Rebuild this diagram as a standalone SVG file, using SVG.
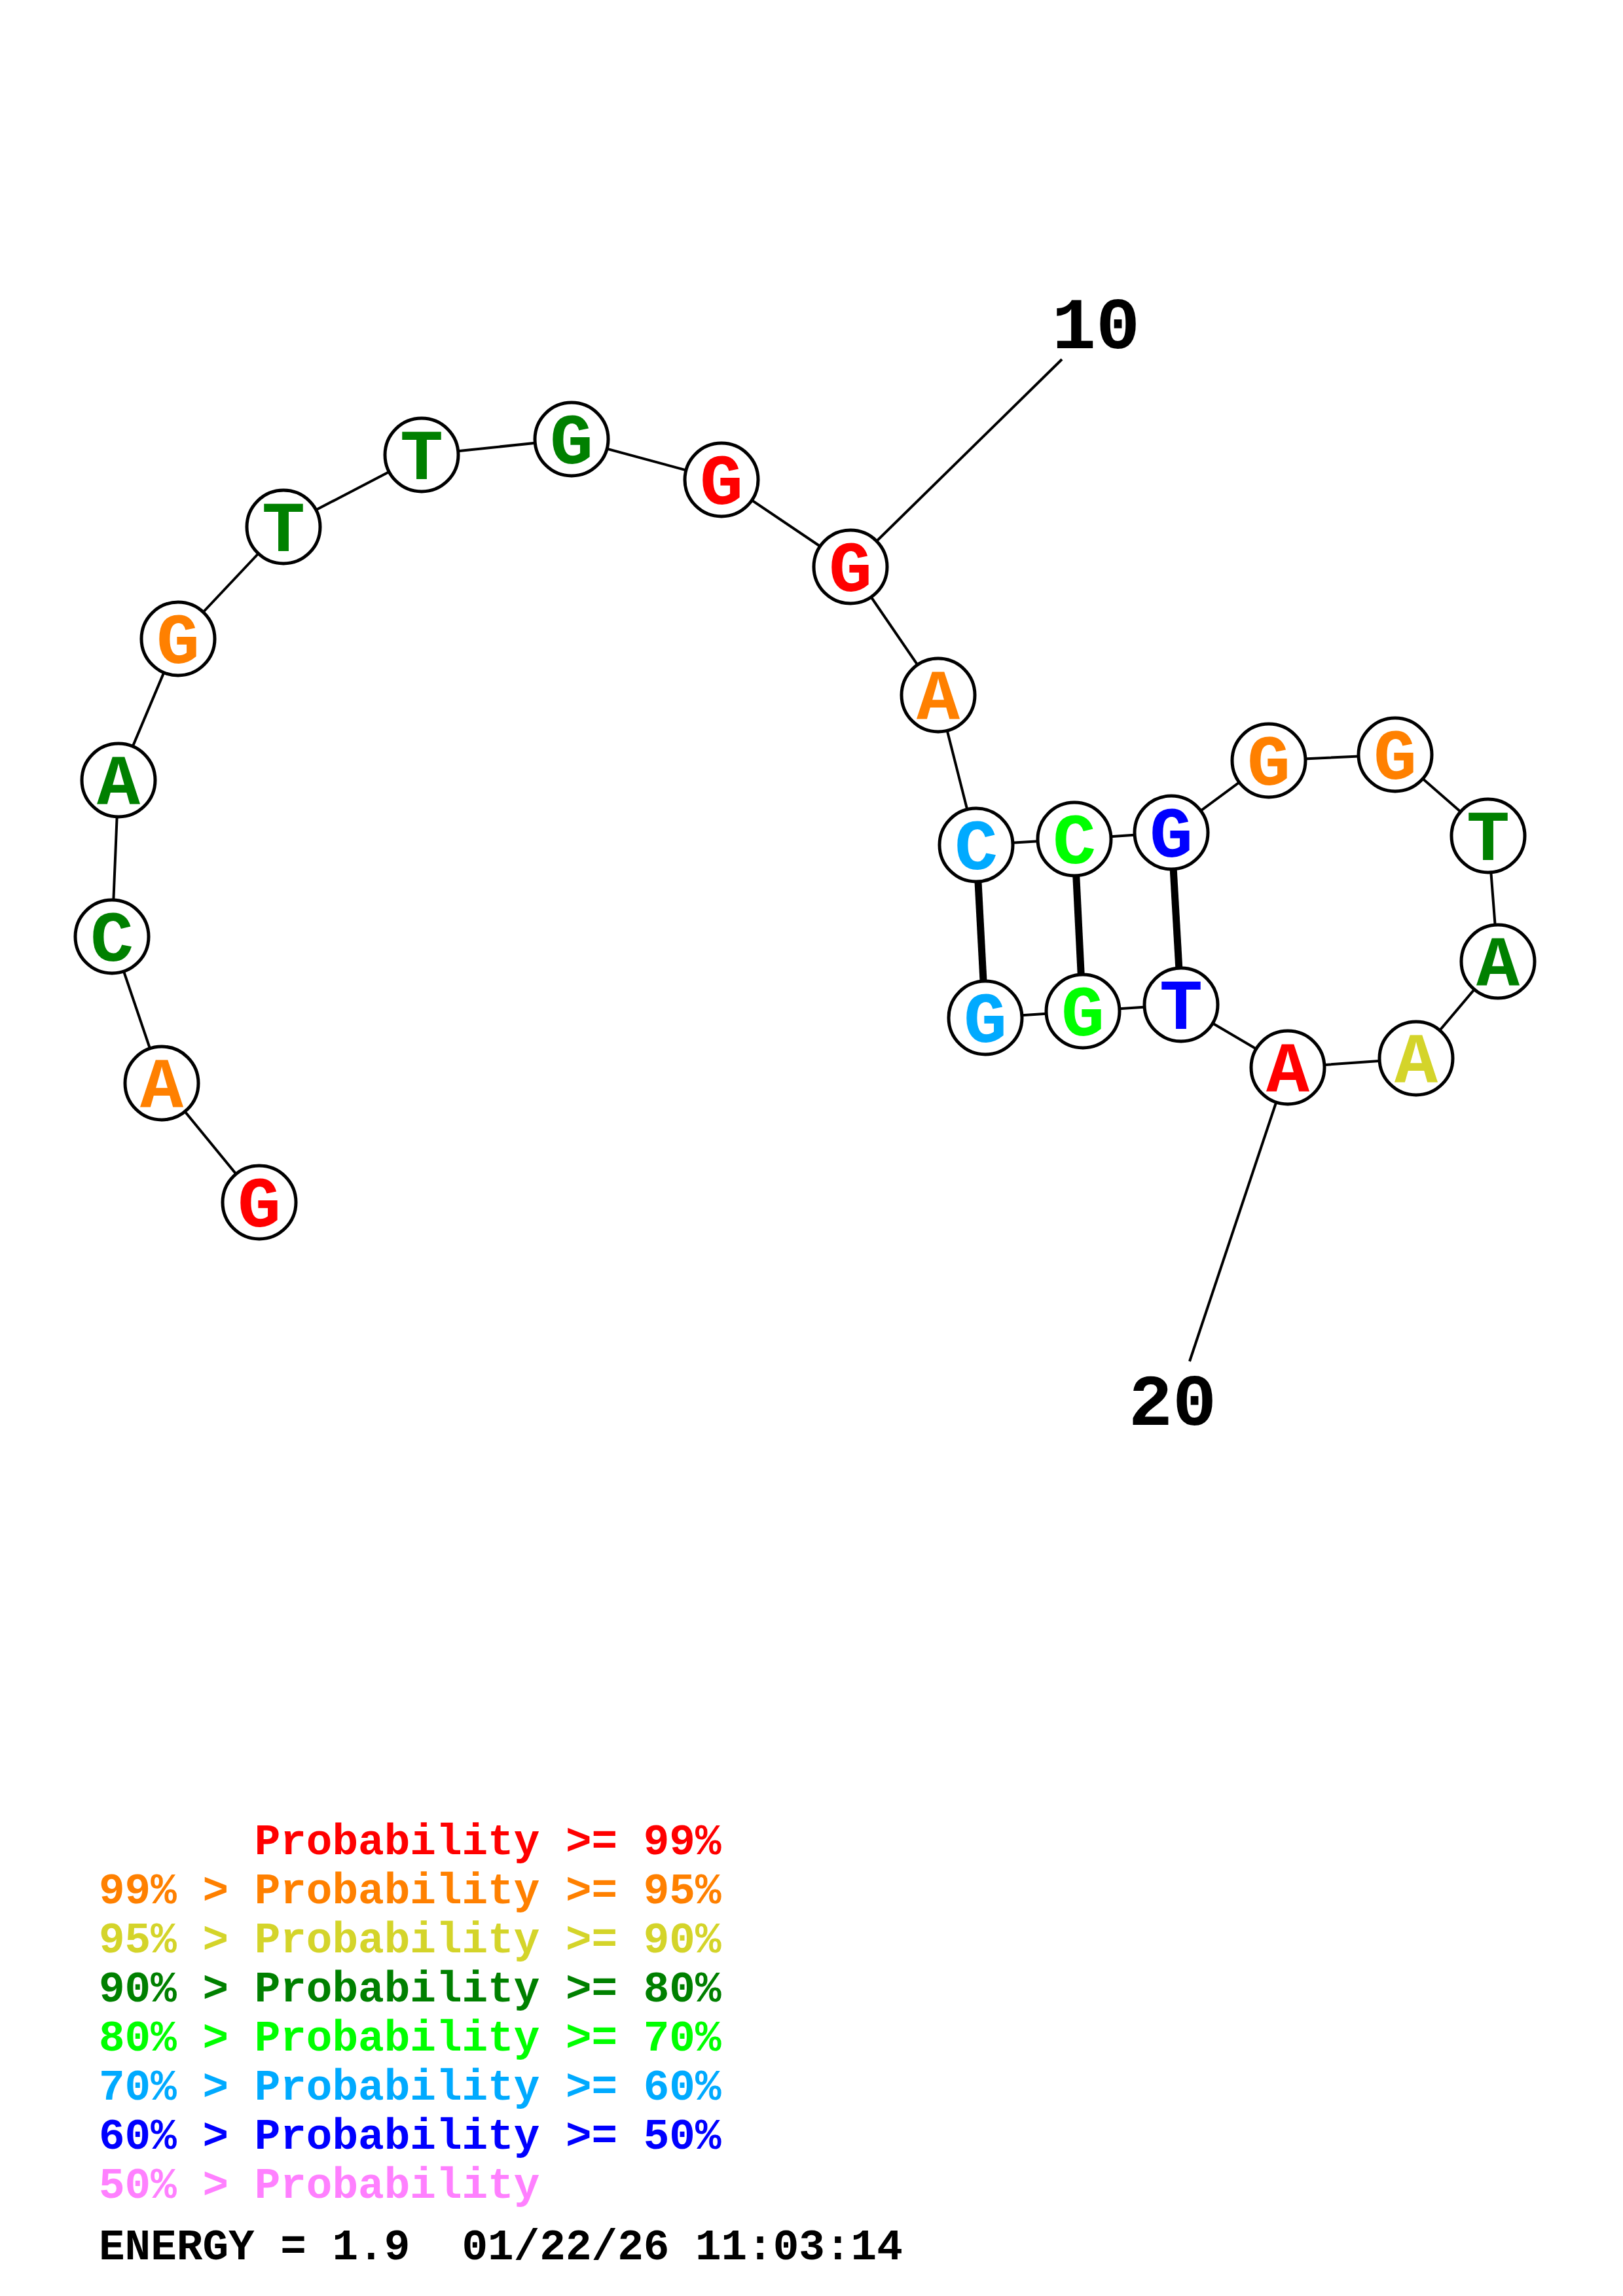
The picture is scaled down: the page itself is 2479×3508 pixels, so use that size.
<svg xmlns="http://www.w3.org/2000/svg" width="2479" height="3508" viewBox="0 0 2479 3508">
<style>
.bb{stroke:#000;stroke-width:4;fill:none}
.bp{stroke:#000;stroke-width:11;fill:none}
.nd circle{fill:#fff;stroke:#000;stroke-width:5}
.nd text{font-family:"Liberation Mono","Courier New",monospace;font-weight:bold;font-size:110px;text-anchor:middle}
.lbl{font-family:"Liberation Mono","Courier New",monospace;font-weight:bold;font-size:112px;text-anchor:middle;fill:#000}
.lg{font-family:"Liberation Mono","Courier New",monospace;font-weight:bold;font-size:66px;white-space:pre}
.r{fill:#FF0000}.o{fill:#FF8000}.y{fill:#D4D42A}.dg{fill:#008000}.lm{fill:#00FF00}.lb{fill:#00AAFF}.b{fill:#0000FF}.p{fill:#FF80FF}
</style>
<rect width="2479" height="3508" fill="#fff"/>
<g id="connectors">
<polyline class="bb" points="396,1837 247,1655 171,1431 181,1192 272,976 433,805 644,695 873,671 1102,733 1299,866 1433,1062 1491,1291 1641,1282 1789,1272 1938,1162 2131,1153 2273,1277 2288,1469 2163,1617 1967,1631 1804,1535 1654,1545 1505,1555"/>
<line class="bb" x1="1299" y1="866" x2="1622" y2="549"/>
<line class="bb" x1="1967" y1="1631" x2="1817" y2="2080"/>
<line class="bp" x1="1491" y1="1291" x2="1505" y2="1555"/>
<line class="bp" x1="1641" y1="1282" x2="1654" y2="1545"/>
<line class="bp" x1="1789" y1="1272" x2="1804" y2="1535"/>
</g>
<g id="n1" class="nd"><circle cx="396" cy="1837" r="56"/><text x="396" y="1874" class="r">G</text></g>
<g id="n2" class="nd"><circle cx="247" cy="1655" r="56"/><text x="247" y="1692" class="o">A</text></g>
<g id="n3" class="nd"><circle cx="171" cy="1431" r="56"/><text x="171" y="1468" class="dg">C</text></g>
<g id="n4" class="nd"><circle cx="181" cy="1192" r="56"/><text x="181" y="1229" class="dg">A</text></g>
<g id="n5" class="nd"><circle cx="272" cy="976" r="56"/><text x="272" y="1013" class="o">G</text></g>
<g id="n6" class="nd"><circle cx="433" cy="805" r="56"/><text x="433" y="842" class="dg">T</text></g>
<g id="n7" class="nd"><circle cx="644" cy="695" r="56"/><text x="644" y="732" class="dg">T</text></g>
<g id="n8" class="nd"><circle cx="873" cy="671" r="56"/><text x="873" y="708" class="dg">G</text></g>
<g id="n9" class="nd"><circle cx="1102" cy="733" r="56"/><text x="1102" y="770" class="r">G</text></g>
<g id="n10" class="nd"><circle cx="1299" cy="866" r="56"/><text x="1299" y="903" class="r">G</text></g>
<g id="n11" class="nd"><circle cx="1433" cy="1062" r="56"/><text x="1433" y="1099" class="o">A</text></g>
<g id="n12" class="nd"><circle cx="1491" cy="1291" r="56"/><text x="1491" y="1328" class="lb">C</text></g>
<g id="n13" class="nd"><circle cx="1641" cy="1282" r="56"/><text x="1641" y="1319" class="lm">C</text></g>
<g id="n14" class="nd"><circle cx="1789" cy="1272" r="56"/><text x="1789" y="1309" class="b">G</text></g>
<g id="n15" class="nd"><circle cx="1938" cy="1162" r="56"/><text x="1938" y="1199" class="o">G</text></g>
<g id="n16" class="nd"><circle cx="2131" cy="1153" r="56"/><text x="2131" y="1190" class="o">G</text></g>
<g id="n17" class="nd"><circle cx="2273" cy="1277" r="56"/><text x="2273" y="1314" class="dg">T</text></g>
<g id="n18" class="nd"><circle cx="2288" cy="1469" r="56"/><text x="2288" y="1506" class="dg">A</text></g>
<g id="n19" class="nd"><circle cx="2163" cy="1617" r="56"/><text x="2163" y="1654" class="y">A</text></g>
<g id="n20" class="nd"><circle cx="1967" cy="1631" r="56"/><text x="1967" y="1668" class="r">A</text></g>
<g id="n21" class="nd"><circle cx="1804" cy="1535" r="56"/><text x="1804" y="1572" class="b">T</text></g>
<g id="n22" class="nd"><circle cx="1654" cy="1545" r="56"/><text x="1654" y="1582" class="lm">G</text></g>
<g id="n23" class="nd"><circle cx="1505" cy="1555" r="56"/><text x="1505" y="1592" class="lb">G</text></g>
<g id="labels">
<text class="lbl" x="1674" y="532">10</text>
<text class="lbl" x="1791" y="2177">20</text>
</g>
<g id="legend" class="lg">
<text xml:space="preserve" x="151" y="2833" class="r">      Probability &gt;= 99%</text>
<text xml:space="preserve" x="151" y="2908" class="o">99% &gt; Probability &gt;= 95%</text>
<text xml:space="preserve" x="151" y="2983" class="y">95% &gt; Probability &gt;= 90%</text>
<text xml:space="preserve" x="151" y="3058" class="dg">90% &gt; Probability &gt;= 80%</text>
<text xml:space="preserve" x="151" y="3133" class="lm">80% &gt; Probability &gt;= 70%</text>
<text xml:space="preserve" x="151" y="3208" class="lb">70% &gt; Probability &gt;= 60%</text>
<text xml:space="preserve" x="151" y="3283" class="b">60% &gt; Probability &gt;= 50%</text>
<text xml:space="preserve" x="151" y="3358" class="p">50% &gt; Probability</text>
<text xml:space="preserve" x="151" y="3452" fill="#000">ENERGY = 1.9  01/22/26 11:03:14</text>
</g>
</svg>
